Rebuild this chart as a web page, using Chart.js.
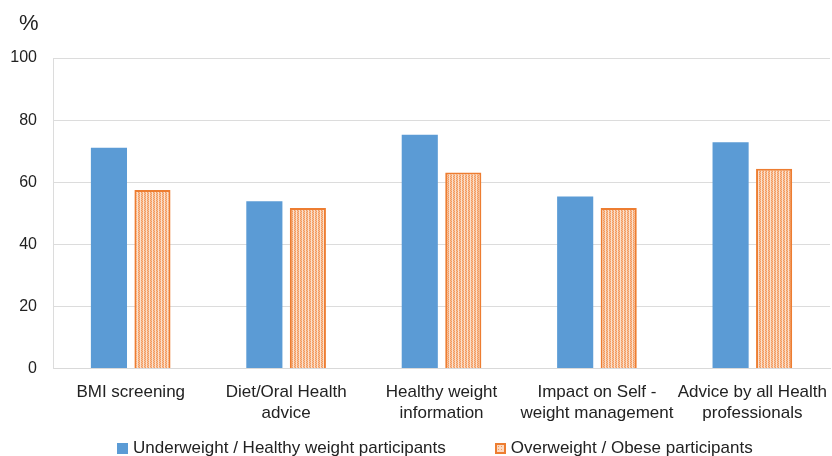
<!DOCTYPE html>
<html><head><meta charset="utf-8">
<script src="https://cdn.jsdelivr.net/npm/chart.js@4.4.1/dist/chart.umd.min.js"></script>
<style>
html,body{margin:0;padding:0;background:#fff}
#wrap{position:relative;width:832px;height:456px}
#legend{position:absolute;left:117px;top:438px;height:20px;display:flex;align-items:center;font-family:'Liberation Sans',Arial,sans-serif;font-size:17px;color:#222;white-space:nowrap}
.item{display:flex;align-items:center}
.box{width:11px;height:11px;margin-right:5px;box-sizing:border-box}
.b0{background:#5b9bd5}
.b1{border:2px solid #ed7d31;background-color:#fcd9c0;background-image:radial-gradient(#f29a5e 40%,transparent 45%);background-size:3px 3px}
</style>
</head><body><div id="wrap"><canvas id="c" width="832" height="456"></canvas><div id="legend"></div></div>
<script>
const categories = [["BMI screening"],["Diet/Oral Health","advice"],["Healthy weight","information"],["Impact on Self -","weight management"],["Advice by all Health","professionals"]];
const seriesNames = ["Underweight / Healthy weight participants","Overweight / Obese participants"];
const underHealthy = [71.1, 53.9, 75.3, 55.4, 72.9];
const overObese = [57.5, 51.7, 63.1, 51.7, 64.3];
const yTicks = [0,20,40,60,80,100];

function makePattern(){
  const p=document.createElement('canvas');p.width=3;p.height=2;
  const x=p.getContext('2d');
  x.fillStyle='#ffffff';x.fillRect(0,0,3,2);
  x.fillStyle='#f29a5e';x.fillRect(0,0,1,1);x.fillRect(1,1,1,1);
  x.fillStyle='#f8be96';x.fillRect(1,0,1,1);x.fillRect(0,1,1,1);
  x.fillStyle='#fbe0cc';x.fillRect(2,0,1,2);
  return document.getElementById('c').getContext('2d').createPattern(p,'repeat');
}
const pat = makePattern();
const font = "'Liberation Sans', Arial, sans-serif";

// HTML legend built from the series names
const lg=document.getElementById('legend');
seriesNames.forEach((n,i)=>{
  const it=document.createElement('div');it.className='item';
  if(i>0) it.style.marginLeft='49px';
  const b=document.createElement('span');b.className='box b'+i;
  const t=document.createElement('span');t.textContent=n;
  it.appendChild(b);it.appendChild(t);lg.appendChild(it);
});

const pctPlugin = {id:'pct',afterDraw(chart){const ctx=chart.ctx;ctx.save();ctx.font="22px "+font;ctx.fillStyle='#222';ctx.textBaseline='middle';ctx.fillText('%',19,24);ctx.restore();}};

new Chart(document.getElementById('c'),{
  type:'bar',
  data:{labels:categories,datasets:[
    {label:seriesNames[0],data:underHealthy,backgroundColor:'#5b9bd5',borderColor:'#5b9bd5',borderWidth:0},
    {label:seriesNames[1],data:overObese,backgroundColor:pat,borderColor:'#ed7d31',borderWidth:2}
  ]},
  options:{
    responsive:false,animation:false,
    categoryPercentage:0.56,barPercentage:0.83,
    layout:{padding:{top:58,left:0,right:0,bottom:27}},
    plugins:{legend:{display:false},tooltip:{enabled:false}},
    scales:{
      x:{grid:{display:false},border:{display:true,color:'#d9d9d9'},ticks:{font:{family:font,size:17,lineHeight:1.25},color:'#222',padding:5,maxRotation:0,autoSkip:false}},
      y:{min:0,max:100,afterBuildTicks(s){s.ticks=yTicks.map(v=>({value:v}));},
        afterFit(s){s.width=53;},
        grid:{color:'#dcdcdc',drawTicks:false},border:{display:true,color:'#dcdcdc'},
        ticks:{font:{family:font,size:16},color:'#222',padding:16}}
    }
  },
  plugins:[pctPlugin]
});
</script></body></html>
